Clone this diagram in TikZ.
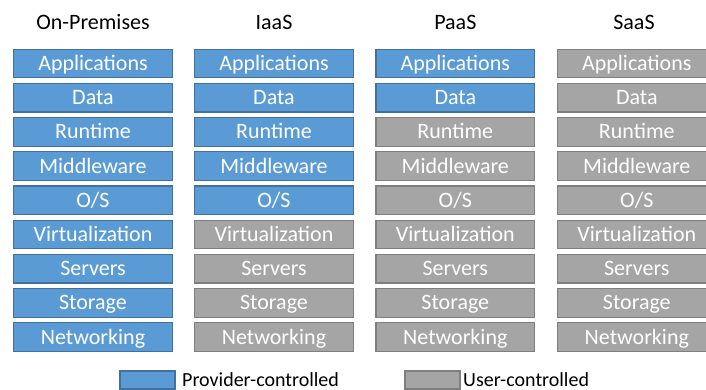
\documentclass[tikz,border=0pt]{standalone}
\usepackage{fontspec}
\setmainfont{Carlito}
\usepackage{xcolor}
\usepackage{tikz}
\usetikzlibrary{positioning}

\definecolor{provblue}{HTML}{5B9BD5}
\definecolor{provedge}{HTML}{41719C}
\definecolor{usergray}{HTML}{A5A5A5}
\definecolor{useredge}{HTML}{7F7F7F}

\begin{document}
\begin{tikzpicture}[x=1pt, y=-1pt, node distance=34.2pt]
    % Define the styles for the layers
    \tikzstyle{layer} = [rectangle, draw, line width=1.2pt, text=white, minimum width=158.5pt, minimum height=28.5pt, inner sep=0pt, text height=14pt, text depth=0pt, font=\fontsize{22}{22}\selectfont]
    \tikzstyle{provider} = [layer, fill=provblue, draw=provedge]
    \tikzstyle{user} = [layer, fill=usergray, draw=useredge]
    \tikzstyle{head} = [anchor=base, font=\fontsize{22}{22}\selectfont]
    \tikzstyle{keybox} = [rectangle, draw, line width=1.2pt, minimum width=55pt, minimum height=18pt, inner sep=0pt]
    \tikzstyle{keytext} = [anchor=base west, inner sep=0pt, text depth=0pt, font=\fontsize{20}{20}\selectfont]

    \useasboundingbox (0,0) rectangle (706,390);

    % Column headings
    \node [head] (onprem) at (93,30) {On-Premises};
    \node [head] (iaas) at (274,30) {IaaS};
    \node [head] (paas) at (455.3,30) {PaaS};
    \node [head] (saas) at (634,30) {SaaS};

    % On-Premises stack
    \node [provider] (on1) at (93,63.5) {Applications};
    \node [provider, below of=on1] (on2) {Data};
    \node [provider, below of=on2] (on3) {Runtime};
    \node [provider, below of=on3] (on4) {Middleware};
    \node [provider, below of=on4] (on5) {O/S};
    \node [provider, below of=on5] (on6) {Virtualization};
    \node [provider, below of=on6] (on7) {Servers};
    \node [provider, below of=on7] (on8) {Storage};
    \node [provider, below of=on8] (on9) {Networking};

    % IaaS stack
    \node [provider] (ia1) at (274,63.5) {Applications};
    \node [provider, below of=ia1] (ia2) {Data};
    \node [provider, below of=ia2] (ia3) {Runtime};
    \node [provider, below of=ia3] (ia4) {Middleware};
    \node [provider, below of=ia4] (ia5) {O/S};
    \node [user, below of=ia5] (ia6) {Virtualization};
    \node [user, below of=ia6] (ia7) {Servers};
    \node [user, below of=ia7] (ia8) {Storage};
    \node [user, below of=ia8] (ia9) {Networking};

    % PaaS stack
    \node [provider] (pa1) at (455.3,63.5) {Applications};
    \node [provider, below of=pa1] (pa2) {Data};
    \node [user, below of=pa2] (pa3) {Runtime};
    \node [user, below of=pa3] (pa4) {Middleware};
    \node [user, below of=pa4] (pa5) {O/S};
    \node [user, below of=pa5] (pa6) {Virtualization};
    \node [user, below of=pa6] (pa7) {Servers};
    \node [user, below of=pa7] (pa8) {Storage};
    \node [user, below of=pa8] (pa9) {Networking};

    % SaaS stack
    \node [user] (sa1) at (636.8,63.5) {Applications};
    \node [user, below of=sa1] (sa2) {Data};
    \node [user, below of=sa2] (sa3) {Runtime};
    \node [user, below of=sa3] (sa4) {Middleware};
    \node [user, below of=sa4] (sa5) {O/S};
    \node [user, below of=sa5] (sa6) {Virtualization};
    \node [user, below of=sa6] (sa7) {Servers};
    \node [user, below of=sa7] (sa8) {Storage};
    \node [user, below of=sa8] (sa9) {Networking};

    % Legend
    \node [keybox, fill=provblue, draw=provedge] (provkey) at (147.5,380) {};
    \node [keytext] (provtext) at (182,386) {Provider-controlled};
    \node [keybox, fill=usergray, draw=useredge] (userkey) at (432.5,380) {};
    \node [keytext] (usertext) at (463,386) {User-controlled};

\end{tikzpicture}
\end{document}
